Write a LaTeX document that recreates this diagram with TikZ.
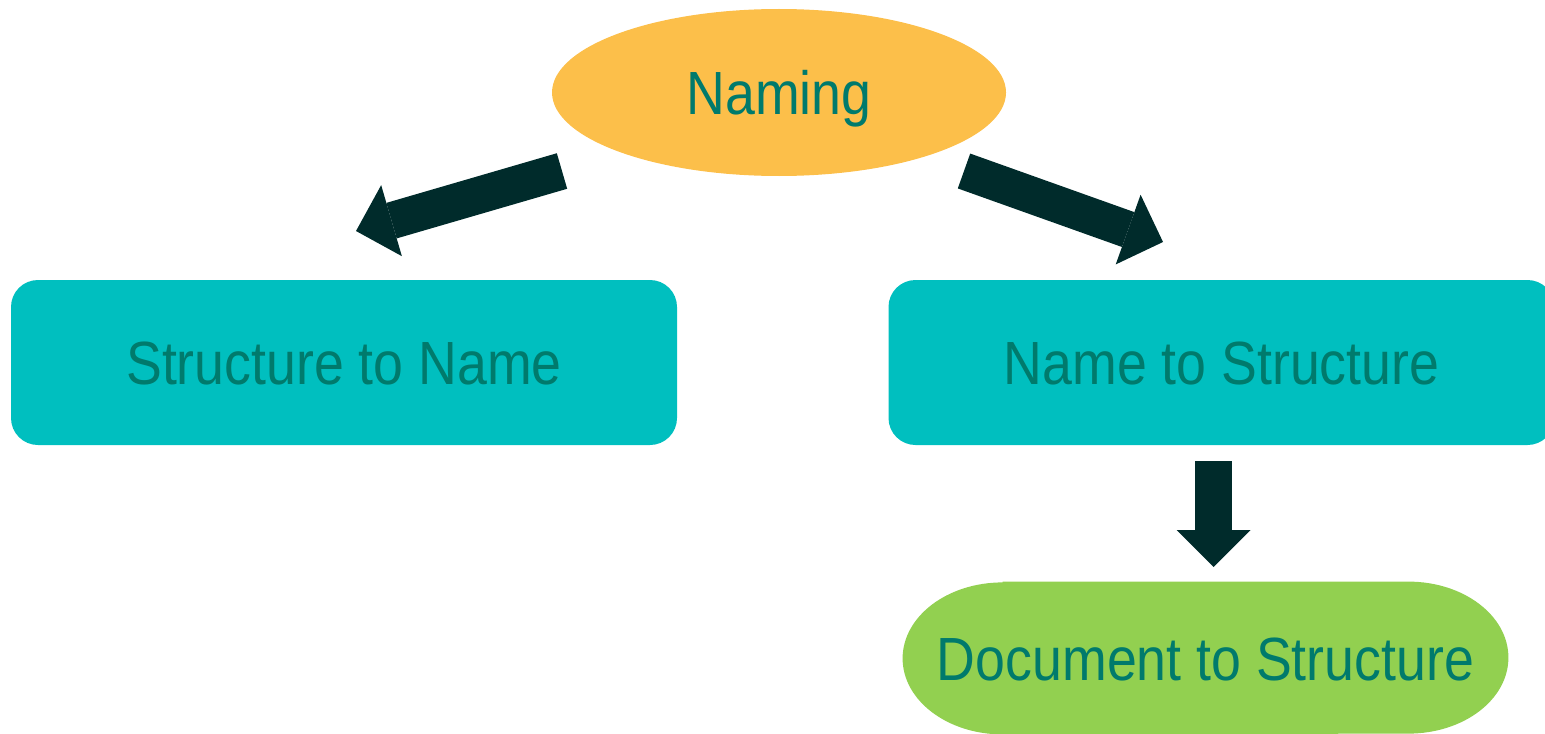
\documentclass[tikz,border=0pt]{standalone}
\usepackage{fontspec}
\newfontfamily\lblfont[FakeStretch=0.88]{Liberation Sans}
\usetikzlibrary{shapes.geometric,arrows.meta}
\definecolor{namingfill}{RGB}{252,191,74}
\definecolor{boxfill}{RGB}{0,191,191}
\definecolor{pillfill}{RGB}{146,208,80}
\definecolor{labelcol}{RGB}{0,122,108}
\definecolor{arrowcol}{RGB}{0,43,43}
\tikzset{
  lbl/.style={font=\lblfont\fontsize{30.5pt}{36pt}\selectfont, text=labelcol,
              text height=22pt, text depth=0pt, inner sep=0pt},
  topic/.style={lbl, ellipse, fill=namingfill, minimum width=227pt, minimum height=83.5pt},
  task/.style={lbl, rectangle, rounded corners=13.5pt, fill=boxfill,
               minimum width=333pt, minimum height=82.5pt},
  source/.style={lbl, rectangle, minimum width=302.5pt, minimum height=76pt},
  endcap/.style={x radius=50pt, y radius=38pt},
  blockarrow/.style={draw=arrowcol, line width=18.5pt,
                     -{Triangle[width=37pt,length=18.5pt,line width=0pt,fill=arrowcol]}}
}
\begin{document}
\begin{tikzpicture}[x=0.5pt,y=-0.5pt]
\useasboundingbox (0,0) rectangle (1545,733);
\clip (0,0) rectangle (1545,733);

\node[topic]  (naming) at (779,92.5)   {Naming};
\node[task]   (s2n)    at (344,362.5)  {Structure to Name};
\node[task]   (n2s)    at (1221.5,362.5) {Name to Structure};

% pill with elliptical ends behind the last label
\node[source] (d2s) at (1205.5,658) {};
\fill[pillfill] ([xshift=50pt]d2s.north west) -- ([xshift=-50pt]d2s.north east)
  arc[start angle=90, end angle=-90, endcap] -- ([xshift=50pt]d2s.south west)
  arc[start angle=270, end angle=90, endcap] -- cycle;
\node[lbl] at (d2s.center) {Document to Structure};

% block arrows between the nodes
\coordinate (la-tail) at (562,171);
\coordinate (la-tip)  at (356,231);
\coordinate (ra-tail) at (964,171);
\coordinate (ra-tip)  at (1163,242);
\coordinate (da-tail) at (1213.5,461);
\coordinate (da-tip)  at (1213.5,567);
\draw[blockarrow] (la-tail) -- (la-tip);
\draw[blockarrow] (ra-tail) -- (ra-tip);
\draw[blockarrow] (da-tail) -- (da-tip);
\end{tikzpicture}
\end{document}
